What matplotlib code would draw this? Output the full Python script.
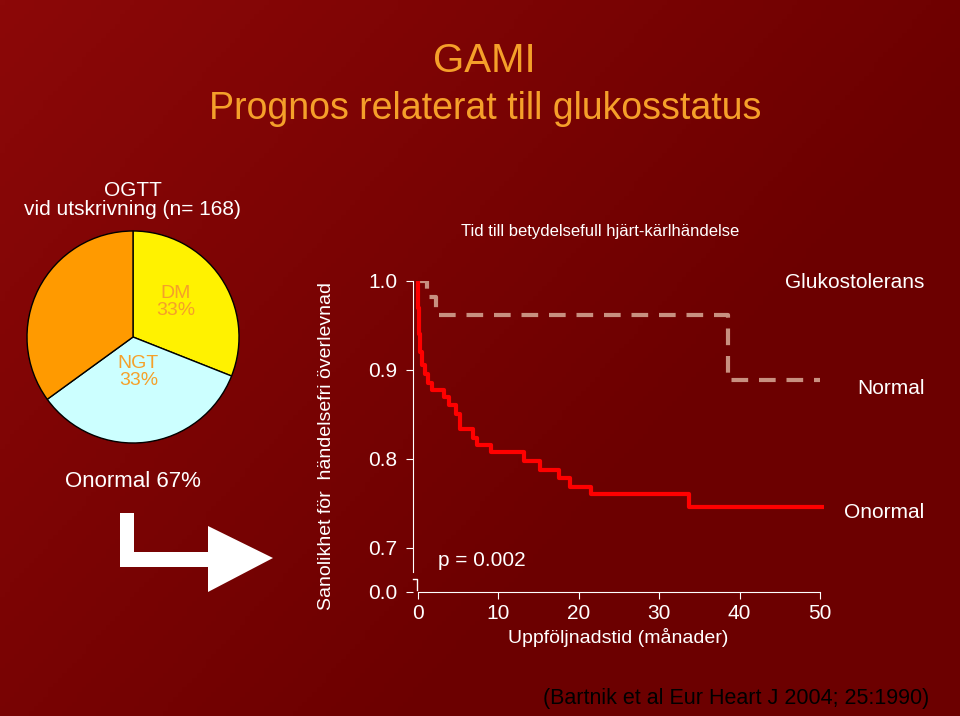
import numpy as np
import matplotlib
matplotlib.use("Agg")
import matplotlib.pyplot as plt
from matplotlib.patches import Polygon
from matplotlib.colors import LinearSegmentedColormap

plt.rcParams["font.family"] = "Liberation Sans"

# ── Data ─────────────────────────────────────────────────────────────────────
pie_values = [31, 34, 35]          # DM, NGT, (other) — drawn clockwise from top
pie_colors = ["#FFF200", "#CCFFFF", "#FF9A00"]

# Onormal (abnormal glucose tolerance) KM curve: time (months), survival
abn_t = [0, 0.05, 0.15, 0.3, 0.5, 0.9, 1.3, 1.8, 3.2, 3.9, 4.7, 5.2, 6.8, 7.3,
         9.1, 13.2, 15.2, 17.5, 18.9, 21.5, 33.7, 50.3]
abn_s = [1.0, 0.97, 0.94, 0.92, 0.905, 0.895, 0.885, 0.877, 0.870, 0.860, 0.850,
         0.833, 0.823, 0.815, 0.807, 0.797, 0.787, 0.778, 0.768, 0.760, 0.746, 0.746]

# Normal glucose tolerance KM curve
norm_t = [0, 1.2, 2.2, 38.6, 50]
norm_s = [1.0, 0.982, 0.962, 0.889, 0.889]

yticks = [0.65, 0.7, 0.8, 0.9, 1.0]
ytick_labels = ["0.0", "0.7", "0.8", "0.9", "1.0"]
xticks = [0, 10, 20, 30, 40, 50]

ORANGE = "#F5A02A"
BG = "#760000"

fig = plt.figure(figsize=(9.6, 7.16), dpi=100)
fig.patch.set_facecolor(BG)

# background gradient + drawing layer in pixel coords
bg = fig.add_axes([0, 0, 1, 1])
bg.set_xlim(0, 960); bg.set_ylim(716, 0); bg.axis("off")
gx = np.linspace(0, 1, 200)
gy = np.linspace(0, 1, 150)
G = np.clip(1 - (gx[None, :] * 0.9 + gy[:, None] * 0.6), 0, 1)
cmap = LinearSegmentedColormap.from_list("bg", ["#6c0000", "#8c0808"])
bg.imshow(G, cmap=cmap, extent=[0, 960, 716, 0], aspect="auto", zorder=0)

fig.text(0.505, 0.915, "GAMI", color=ORANGE, fontsize=29, ha="center", va="center")
fig.text(0.505, 0.848, "Prognos relaterat till glukosstatus", color=ORANGE,
         fontsize=27, ha="center", va="center")
fig.text(0.138, 0.720, "OGTT\nvid utskrivning (n= 168)", color="white", fontsize=15,
         ha="center", va="center", linespacing=1.0)
fig.text(0.625, 0.677, "Tid till betydelsefull hjärt-kärlhändelse", color="white",
         fontsize=12, ha="center", va="center")
fig.text(0.968, 0.01, "(Bartnik et al Eur Heart J 2004; 25:1990)", color="black",
         fontsize=15.5, ha="right", va="bottom")

# arrow
bg.add_patch(Polygon([[120, 513], [134, 513], [134, 552], [208, 552], [208, 526],
                      [273, 558], [208, 592], [208, 567], [120, 567]],
                     closed=True, fc="white", ec="none", zorder=2))

# pie
r = 106
pax = fig.add_axes([(133 - r)/960, 1 - (337 + r)/716, 2*r/960, 2*r/716])
pax.pie(pie_values, colors=pie_colors, startangle=90, counterclock=False, radius=1,
        wedgeprops=dict(edgecolor="black", linewidth=1))
pax.set_xlim(-1, 1); pax.set_ylim(-1, 1)
pax.text(0.4, 0.33, "DM\n33%", color=ORANGE, fontsize=14, ha="center", va="center",
         linespacing=1.0)
pax.text(0.05, -0.33, "NGT\n33%", color=ORANGE, fontsize=14, ha="center", va="center",
         linespacing=1.0)
fig.text(0.138, 0.328, "Onormal 67%", color="white", fontsize=16, ha="center", va="center")

# KM plot
ax = fig.add_axes([0.4302, 1 - 592/716, 0.4281, (592 - 281)/716])
ax.set_facecolor("none")
ax.step(norm_t, norm_s, where="post", color="#C89080", lw=3, dashes=(4, 2.6))
ax.step(abn_t, abn_s, where="post", color="#FF0000", lw=3)
ax.set_xlim(-0.6, 50.5)
ax.set_ylim(0.65, 1.0)
ax.set_xticks(xticks)
ax.set_yticks(yticks)
ax.set_yticklabels(ytick_labels)
for s in ["top", "right"]:
    ax.spines[s].set_visible(False)
for s in ["left", "bottom"]:
    ax.spines[s].set_color("white")
ax.spines["bottom"].set_bounds(0, 50)
ax.spines["bottom"].set_position(("data", 0.65))
ax.spines["left"].set_bounds(0.672, 1.0)
ax.plot([-0.6, -0.1, -0.1], [0.665, 0.665, 0.652], color="white", lw=1, clip_on=False)
ax.tick_params(colors="white", labelsize=15, length=5)
ax.tick_params(axis="y", pad=6)
ax.set_xlabel("Uppföljnadstid (månader)", color="white", fontsize=14, labelpad=4)
ax.set_ylabel("Sanolikhet för  händelsefri överlevnad", color="white", fontsize=14,
              labelpad=24, y=0.47)
ax.text(2.5, 0.679, "p = 0.002", color="white", fontsize=15)
fig.text(0.963, 0.598, "Glukostolerans", color="white", fontsize=15, ha="right")
fig.text(0.963, 0.450, "Normal", color="white", fontsize=15, ha="right")
fig.text(0.963, 0.276, "Onormal", color="white", fontsize=15, ha="right")

fig.savefig("out.png", dpi=100, facecolor=BG)
